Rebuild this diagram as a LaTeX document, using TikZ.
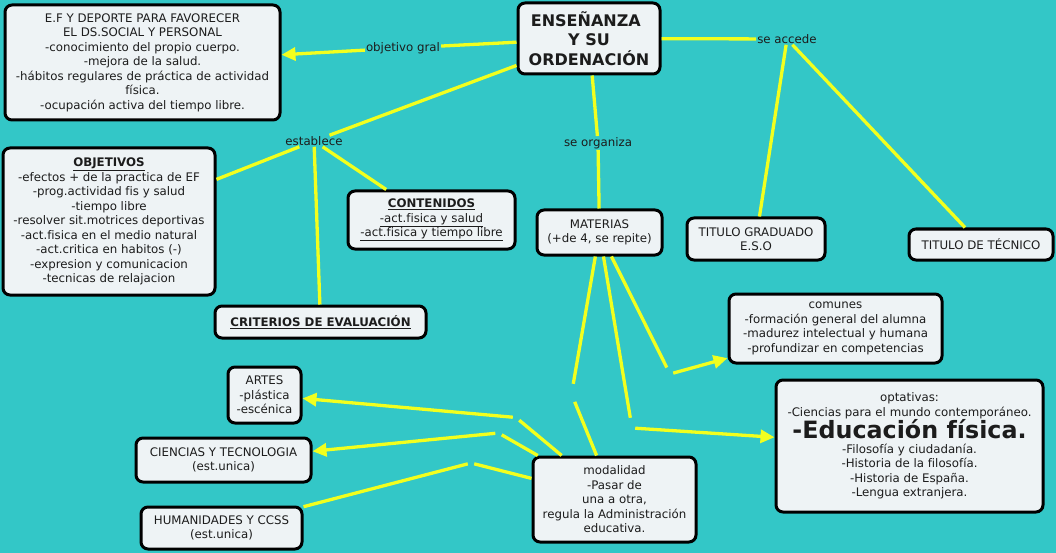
\documentclass[tikz,border=0pt]{standalone}
\usepackage{fontspec}
\setmainfont[Ligatures=NoCommon]{DejaVu Sans}
\usetikzlibrary{arrows.meta}
\definecolor{bg}{RGB}{51,199,199}
\definecolor{boxfill}{RGB}{238,243,245}
\definecolor{ink}{RGB}{28,28,28}
\definecolor{linkc}{RGB}{242,255,30}
\begin{document}
\begin{tikzpicture}[x=1pt,y=-1pt,
  concept/.style={draw=black, line width=3pt, rounded corners=7pt, fill=boxfill, text=ink, align=center, inner sep=0pt, font=\fontsize{11.8}{14.5}\selectfont},
  lbl/.style={text=ink, inner sep=1pt, font=\fontsize{11.8}{14.5}\selectfont},
  hole/.style={inner sep=0pt, minimum width=6pt, minimum height=20pt},
  con/.style={draw=linkc, line width=3.3pt},
  arr/.style={con, -{Triangle[length=14pt,width=13pt]}},
]
\fill[bg] (0,0) rectangle (1056,553);
\useasboundingbox (0,0) rectangle (1056,553);

% concepts
\node[concept, minimum width=275pt, minimum height=115pt] (obj) at (142.5,62.5)
  {E.F Y DEPORTE PARA FAVORECER\\EL DS.SOCIAL Y PERSONAL\\-conocimiento del propio cuerpo.\\-mejora de la salud.\\-hábitos regulares de práctica de actividad\\física.\\-ocupación activa del tiempo libre.};
\node[concept, minimum width=142pt, minimum height=71pt, font=\fontsize{16}{19.5}\selectfont\bfseries] (ens) at (589,38.5)
  {ENSEÑANZA\hspace*{0.4em}\\Y SU\hspace*{0.4em}\\ORDENACIÓN};
\node[concept, minimum width=212pt, minimum height=147pt] (objs) at (109,221.5)
  {\textbf{\underline{OBJETIVOS}}\\-efectos + de la practica de EF\\-prog.actividad fis y salud\\-tiempo libre\\-resolver sit.motrices deportivas\\-act.fisica en el medio natural\\-act.critica en habitos (-)\\-expresion y comunicacion\\-tecnicas de relajacion};
\node[concept, minimum width=167pt, minimum height=58pt] (cont) at (431.5,220)
  {\textbf{\underline{CONTENIDOS}}\\\underline{-act.fisica y salud}\\\underline{-act.fisica y tiempo libre}};
\node[concept, minimum width=211pt, minimum height=32pt] (crit) at (320.5,322)
  {\textbf{\underline{CRITERIOS DE EVALUACIÓN}}};
\node[concept, minimum width=125pt, minimum height=45pt] (mat) at (599.5,232.5)
  {MATERIAS\\(+de 4, se repite)};
\node[concept, minimum width=138pt, minimum height=42pt] (tgrad) at (756,239)
  {TITULO GRADUADO\\E.S.O};
\node[concept, minimum width=144pt, minimum height=31pt] (ttec) at (981,244.5)
  {TITULO DE TÉCNICO};
\node[concept, minimum width=213pt, minimum height=69pt] (com) at (835.5,328.5)
  {comunes\\-formación general del alumna\\-madurez intelectual y humana\\-profundizar en competencias};
\node[concept, minimum width=267pt, minimum height=132pt] (opt) at (909.5,446)
  {optativas:\\-Ciencias para el mundo contemporáneo.\\{\fontsize{23.8}{26}\selectfont\bfseries -Educación física.}\\-Filosofía y ciudadanía.\\-Historia de la filosofía.\\-Historia de España.\\-Lengua extranjera.};
\node[concept, minimum width=163pt, minimum height=85pt] (mod) at (614.5,499.5)
  {modalidad\\-Pasar de\\una a otra,\\regula la Administración\\educativa.};
\node[concept, minimum width=73pt, minimum height=56pt] (art) at (264.5,395)
  {ARTES\\-plástica\\-escénica};
\node[concept, minimum width=175pt, minimum height=44pt] (cien) at (223.5,460)
  {CIENCIAS Y TECNOLOGIA\\(est.unica)};
\node[concept, minimum width=161pt, minimum height=42pt] (hum) at (221.5,528)
  {HUMANIDADES Y CCSS\\(est.unica)};

% linking phrases
\node[lbl] (lgral) at (403,48) {objetivo gral};
\node[lbl] (lest) at (314,141) {establece};
\node[lbl] (lorg) at (598,143) {se organiza};
\node[lbl] (lacc) at (787,39) {se accede};
\node[hole] (p1) at (571.5,394) {};
\node[hole] (p2) at (632,428) {};
\node[hole] (p3) at (670,374) {};
\node[hole] (q1) at (516,417.5) {};
\node[hole] (q2) at (498.5,433) {};
\node[hole] (q3) at (471,463) {};

% connectors
\draw[con] (ens) -- (lgral);
\draw[arr] (lgral) -- (obj);
\draw[con] (ens) -- (lest);
\draw[con] (lest) -- (objs);
\draw[con] (lest) -- (crit);
\draw[con] (lest) -- (cont);
\draw[con] (ens) -- (lorg);
\draw[con] (lorg) -- (mat);
\draw[con] (ens) -- (lacc);
\draw[con] (lacc) -- (tgrad);
\draw[con] (lacc) -- (ttec);
\draw[con] (mat) -- (p1);
\draw[con] (p1) -- (mod);
\draw[con] (mat) -- (p2);
\draw[arr] (p2) -- (opt);
\draw[con] (mat) -- (p3);
\draw[arr] (p3) -- (com);
\draw[con] (mod) -- (q1);
\draw[arr] (q1) -- (art);
\draw[con] (mod) -- (q2);
\draw[arr] (q2) -- (cien);
\draw[con] (mod) -- (q3);
\draw[con] (q3) -- (hum);
\end{tikzpicture}
\end{document}
